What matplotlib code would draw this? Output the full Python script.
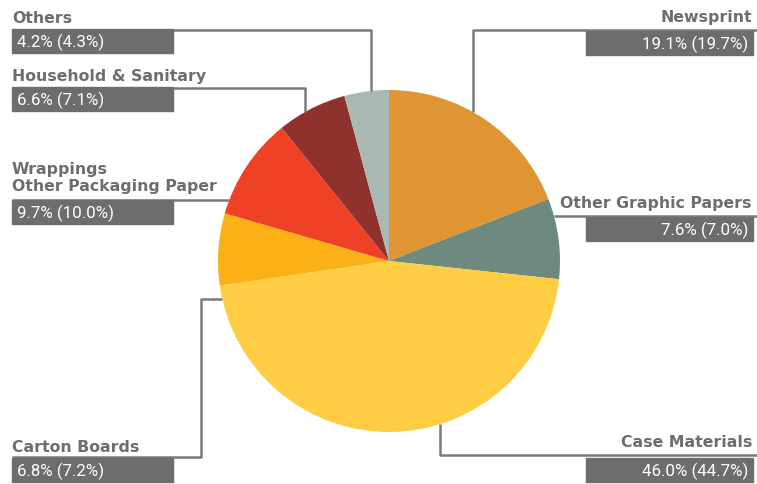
import numpy as np
import matplotlib.pyplot as plt
from matplotlib.patches import Rectangle

# data (clockwise from 12 o'clock)
categories = ['Newsprint', 'Other Graphic Papers', 'Case Materials', 'Carton Boards',
              'Wrappings\nOther Packaging Paper', 'Household & Sanitary', 'Others']
shares = [19.1, 7.6, 46.0, 6.8, 9.7, 6.6, 4.2]
prev_shares = [19.7, 7.0, 44.7, 7.2, 10.0, 7.1, 4.3]
colors = ['#E09534', '#6E8A7E', '#FFCD44', '#FBB116', '#EE4125', '#8F322D', '#A9B8B3']

W, H = 757, 484
grey = '#6D6D6F'
line_c = '#7B7B7B'

fig = plt.figure(figsize=(W / 100, H / 100), dpi=100)
ax = fig.add_axes([0, 0, 1, 1])

cx, cy, r = 389, 261, 171
# pie drawn in flipped axes -> counterclock=True gives clockwise on screen
ax.pie(shares, colors=colors, startangle=-90, counterclock=True,
       center=(cx, cy), radius=r, frame=True,
       wedgeprops=dict(linewidth=0))
ax.set_xlim(0, W)
ax.set_ylim(H, 0)
ax.axis('off')
ax.set_aspect('equal')

# layout for each label: side, leader y, vertical x (or None), elbow y, label text y, box top
layout = {
    'Newsprint':            ('right', 30, 473, None, 22, 31),
    'Other Graphic Papers': ('right', 216, None, None, 208, 217),
    'Case Materials':       ('right', 455, 440, None, 447, 458),
    'Carton Boards':        ('left', 457, 201, 299, 452, 458),
    'Wrappings\nOther Packaging Paper': ('left', 200, None, None, 191, 200),
    'Household & Sanitary': ('left', 88, 305, None, 81, 87),
    'Others':               ('left', 30, 371, None, 23, 29),
}

label_font = dict(fontsize=11.3, fontweight='bold', color=grey, family='DejaVu Sans')
value_font = dict(fontsize=12.2, color='white', family='Roboto')

box_w, box_h = 161, 24
for name, s, p in zip(categories, shares, prev_shares):
    side, ly, vx, hy, ty, btop = layout[name]
    end_x = 12 if side == 'left' else W
    if vx is None:
        dy = ly - cy
        px = cx + np.sign(end_x - cx) * np.sqrt(r**2 - dy**2)
        xs, ys = [px, end_x], [ly, ly]
    elif hy is not None:
        dy = hy - cy
        px = cx - np.sqrt(r**2 - dy**2)
        xs, ys = [px, vx, vx, end_x], [hy, hy, ly, ly]
    else:
        dx = vx - cx
        py = cy + np.sign(ly - cy) * np.sqrt(r**2 - dx**2)
        xs, ys = [vx, vx, end_x], [py, ly, ly]
    ax.plot(xs, ys, color=line_c, lw=1.8, solid_capstyle='butt', zorder=1)

    if side == 'left':
        bx = 12
        ax.add_patch(Rectangle((bx, btop), box_w, box_h, color=grey, zorder=2))
        ax.text(bx, ty, name, ha='left', va='baseline', linespacing=1.15, **label_font)
        ax.text(bx + 5, btop + box_h / 2 + 1, f'{s:.1f}% ({p:.1f}%)', ha='left',
                va='center', **value_font)
    else:
        bx = 586
        ax.add_patch(Rectangle((bx, btop), 753 - bx, box_h, color=grey, zorder=2))
        ax.text(752, ty, name, ha='right', va='baseline', **label_font)
        ax.text(748, btop + box_h / 2 + 1, f'{s:.1f}% ({p:.1f}%)', ha='right',
                va='center', **value_font)

fig.savefig('out.png', dpi=100)
